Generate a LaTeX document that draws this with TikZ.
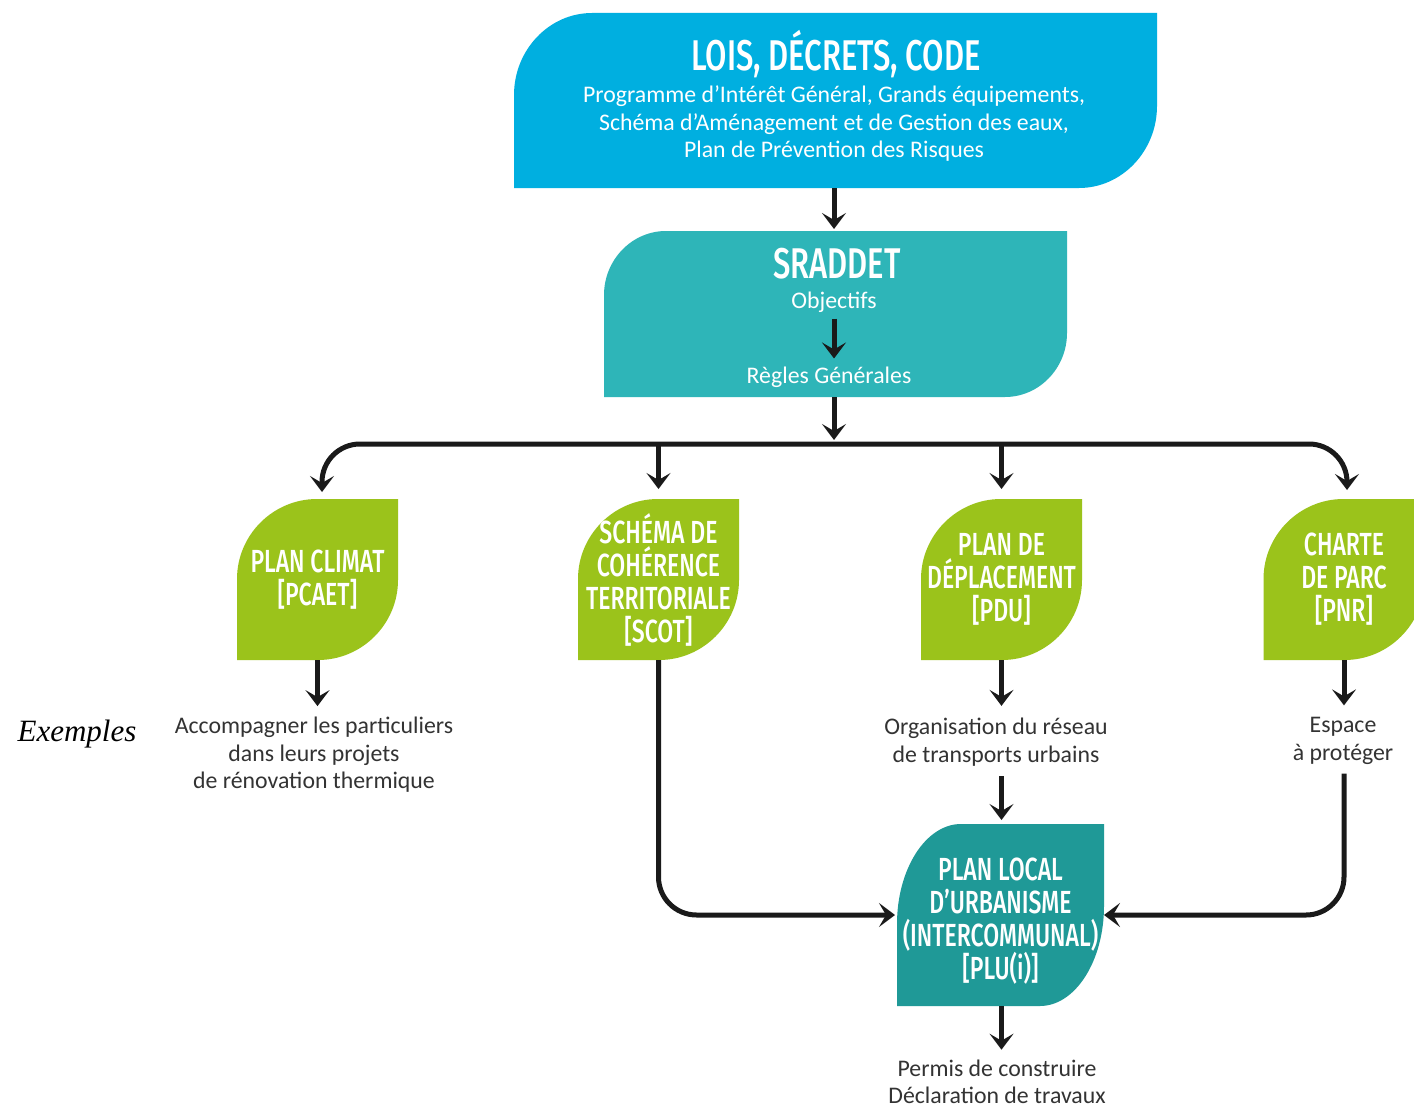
\documentclass[tikz,border=0pt]{standalone}
\usepackage{fontspec}
\setmainfont{Carlito}
\newfontfamily\headfont[FakeStretch=0.72]{Fira Sans Medium}
\newfontfamily\exfont{Liberation Serif}
\usetikzlibrary{arrows.meta,calc,backgrounds}
\definecolor{cblue}{HTML}{00AFE0}
\definecolor{cteal}{HTML}{2EB5B8}
\definecolor{cgreen}{HTML}{9BC31B}
\definecolor{cdteal}{HTML}{1F9997}
\definecolor{ctext}{HTML}{333333}
\definecolor{carrow}{HTML}{1A1A1A}
% leaf-shaped fill: node name, rx, ry, colour
\newcommand\leafshape[4]{%
  \fill[#4] (#1.south west) -- ($(#1.north west)+(0,#3)$)
    .. controls ($(#1.north west)+(0,0.45*#3)$) and ($(#1.north west)+(0.45*#2,0)$) .. ($(#1.north west)+(#2,0)$)
    -- (#1.north east) -- ($(#1.south east)+(0,-#3)$)
    .. controls ($(#1.south east)+(0,-0.45*#3)$) and ($(#1.south east)+(-0.45*#2,0)$) .. ($(#1.south east)+(-#2,0)$)
    -- cycle;}
\begin{document}
\begin{tikzpicture}[x=1pt,y=-1pt,
  shapebox/.style={inner sep=0pt, outer sep=0pt},
  leafbox/.style={shapebox, minimum width=161pt, minimum height=161pt, text=white, align=center,
    font=\headfont\fontsize{32}{33}\selectfont},
  head/.style={text=white, inner sep=0pt, font=\headfont\fontsize{43}{43}\selectfont},
  wbody/.style={text=white, inner sep=0pt, align=center, font=\fontsize{23.8}{27.5}\selectfont},
  gbody/.style={text=ctext, inner sep=0pt, align=center, font=\fontsize{23.8}{27.5}\selectfont},
  tip/.tip={Stealth[length=16pt,width=24pt,inset=7pt]},
  arr/.style={line width=5pt, draw=carrow, -tip},
  link/.style={line width=5pt, draw=carrow, rounded corners=38pt}]
\clip (0,0) rectangle (1414,1108);

% top box
\node[shapebox, minimum width=643pt, minimum height=175pt] (top) at (835.5,100.5) {};
\node[head] (toptitle) at (836,54) {LOIS, DÉCRETS, CODE};
\node[wbody] (topbody) at (834,124) {Programme d’Intérêt Général, Grands équipements,\\Schéma d’Aménagement et de Gestion des eaux,\\Plan de Prévention des Risques};

% SRADDET
\node[shapebox, minimum width=463pt, minimum height=166pt] (sraddet) at (835.5,314) {};
\node[head] (stitle) at (837,264) {SRADDET};
\node[wbody] (obj) at (834,302) {Objectifs};
\node[wbody] (regles) at (829,377) {Règles Générales};

% green boxes
\node[leafbox] (pcaet) at (317.5,579.5) {PLAN CLIMAT\\{}[PCAET]};
\node[leafbox] (scot) at (658.5,579.5) {SCHÉMA DE\\COHÉRENCE\\TERRITORIALE\\{}[SCOT]};
\node[leafbox] (pdu) at (1001.5,579.5) {PLAN DE\\DÉPLACEMENT\\{}[PDU]};
\node[leafbox] (pnr) at (1344,579.5) {CHARTE\\DE PARC\\{}[PNR]};

% PLU
\node[shapebox, minimum width=207pt, minimum height=182pt] (plu) at (1000.5,915) {};
\node[text=white, inner sep=0pt, align=center, font=\headfont\fontsize{32}{33}\selectfont] (plutxt) at (1000.5,921) {PLAN LOCAL\\D’URBANISME\\(INTERCOMMUNAL)\\{}[PLU(i)]};

% example texts
\node[gbody] (pcaettxt) at (314,755) {Accompagner les particuliers\\dans leurs projets\\de rénovation thermique};
\node[gbody] (pdutxt) at (996,742) {Organisation du réseau\\de transports urbains};
\node[gbody] (pnrtxt) at (1343,741) {Espace\\à protéger};
\node[gbody] (permis) at (997,1082) {Permis de construire\\Déclaration de travaux};
\node[inner sep=0pt, font=\exfont\itshape\fontsize{31}{31}\selectfont] (ex) at (77,734) {Exemples};

% shapes
\begin{scope}[on background layer]
  \fill[white] (0,0) rectangle (1414,1108);
  \leafshape{top}{78}{82}{cblue}
  \leafshape{sraddet}{62}{64}{cteal}
  \leafshape{pcaet}{80}{80}{cgreen}
  \leafshape{scot}{80}{80}{cgreen}
  \leafshape{pdu}{80}{80}{cgreen}
  \leafshape{pnr}{80}{80}{cgreen}
  \leafshape{plu}{64}{100}{cdteal}
\end{scope}

% connectors
\coordinate (bus) at (834,444);
\draw[arr, shorten >=2pt] (top.south -| bus) -- (sraddet.north -| bus);
\draw[arr, shorten <=6pt, shorten >=8pt] (obj.south) -- (obj.south |- regles.north);
\draw[arr, shorten >=4pt] (sraddet.south -| bus) -- (bus);
\draw[link, tip-tip] ($(pcaet.north)+(4.5,-7)$) |- (bus) -| ($(pnr.north)+(3,-9)$);
\draw[arr] (bus -| scot.north) -- ($(scot.north)+(0,-10)$);
\draw[arr] (bus -| pdu.north) -- ($(pdu.north)+(0,-10)$);

\draw[arr, shorten >=11pt] (pcaet.south) -- (pcaet.south |- pcaettxt.north);
\draw[arr, shorten >=12pt] (pdu.south) -- (pdu.south |- pdutxt.north);
\draw[arr, shorten <=10pt, shorten >=4pt] (pdu.south |- pdutxt.south) -- (pdu.south |- plu.north);
\draw[arr, shorten >=12pt] (pnr.south) -- (pnr.south |- pnrtxt.north);
\draw[link, -tip, shorten <=9pt] (pnrtxt.south -| pnr.south) |- (plu.east);
\draw[link, -tip, shorten >=2pt] (scot.south) |- (plu.west);
\draw[arr, shorten >=10pt] (plu.south -| pdu.south) -- (pdu.south |- permis.north);
\end{tikzpicture}
\end{document}
